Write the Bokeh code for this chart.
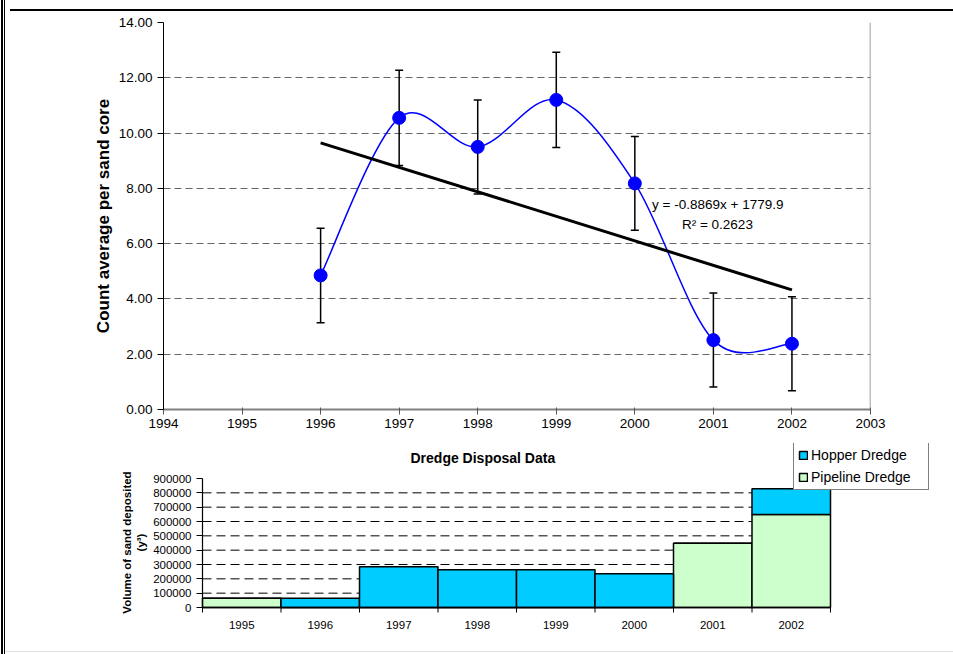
import numpy as np
from bokeh.plotting import figure
from bokeh.models import (Range1d, FixedTicker, NumeralTickFormatter, Span, Label,
                          Legend, LegendItem, ColumnDataSource, InlineStyleSheet)
from bokeh.core.properties import value
from bokeh.embed import file_html
from bokeh.resources import INLINE

# ---------------- data ----------------
years = [1996, 1997, 1998, 1999, 2000, 2001, 2002]
counts = [4.85, 10.55, 9.50, 11.20, 8.18, 2.51, 2.38]
errors = [1.71, 1.72, 1.70, 1.72, 1.70, 1.70, 1.70]
x_ticks = [1994, 1995, 1996, 1997, 1998, 1999, 2000, 2001, 2002, 2003]
y_ticks = [0, 2, 4, 6, 8, 10, 12, 14]
trend_slope = -0.8869
trend_intercept = 1779.9
r_squared = 0.2623

dredge_years = ["1995", "1996", "1997", "1998", "1999", "2000", "2001", "2002"]
hopper = [0, 65000, 285000, 263000, 263000, 236000, 0, 180000]
pipeline = [65000, 0, 0, 0, 0, 0, 448000, 649000]
vol_ticks = [0, 100000, 200000, 300000, 400000, 500000, 600000, 700000, 800000, 900000]

FONT = "Liberation Sans"
BLUE = "#0000FF"
HOPPER_C = "#00CCFF"
PIPE_C = "#CCFFCC"

# page frame lines around the chart (decoration of the sheet), one overlay per figure
top_css = InlineStyleSheet(css="""
:host::before { content: ""; position: absolute; left: 0; top: 0; width: 953px; height: 440px;
  z-index: 100; pointer-events: none;
  background-image: linear-gradient(#000, #000), linear-gradient(#000, #000), linear-gradient(#000, #000);
  background-size: 2px 440px, 1px 440px, 943px 2px;
  background-position: 1px 0, 4px 0, 10px 9px;
  background-repeat: no-repeat; }
""")
bottom_css = InlineStyleSheet(css="""
:host::before { content: ""; position: absolute; left: 0; top: 0; width: 953px; height: 214px;
  z-index: 100; pointer-events: none;
  background-image: linear-gradient(#000, #000), linear-gradient(#000, #000), linear-gradient(#e0e0e0, #e0e0e0);
  background-size: 2px 214px, 1px 214px, 948px 1px;
  background-position: 1px 0, 4px 0, 5px 211px;
  background-repeat: no-repeat; }
""")

# ---------------- top chart ----------------
p1 = figure(width=953, height=440, output_backend="svg", toolbar_location=None,
            x_range=Range1d(1994, 2003), y_range=Range1d(0, 14),
            min_border_left=163, min_border_right=83, min_border_top=22, min_border_bottom=31)
p1.outline_line_color = None
p1.stylesheets = [top_css]

p1.xgrid.visible = False
p1.ygrid.ticker = FixedTicker(ticks=y_ticks[1:])
p1.ygrid.grid_line_color = "#666666"
p1.ygrid.grid_line_dash = "7 4"
p1.ygrid.grid_line_width = 1

p1.xaxis.ticker = FixedTicker(ticks=x_ticks)
p1.xaxis.major_label_text_font = FONT
p1.xaxis.major_label_text_font_size = "13.5px"
p1.xaxis.major_label_text_color = "black"
p1.xaxis.major_label_standoff = 4
p1.xaxis.axis_line_color = "#808080"
p1.xaxis.axis_line_width = 2
p1.xaxis.major_tick_line_color = "#555555"
p1.xaxis.major_tick_out = 5
p1.xaxis.major_tick_in = 2
p1.xaxis.minor_tick_line_color = None

p1.yaxis.ticker = FixedTicker(ticks=y_ticks)
p1.yaxis.formatter = NumeralTickFormatter(format="0.00")
p1.yaxis.major_label_text_font = FONT
p1.yaxis.major_label_text_font_size = "13.5px"
p1.yaxis.major_label_text_color = "black"
p1.yaxis.axis_line_color = "black"
p1.yaxis.major_tick_out = 6
p1.yaxis.major_tick_in = 0
p1.yaxis.minor_tick_line_color = None
p1.yaxis.axis_label = "Count average per sand core"
p1.yaxis.axis_label_text_font = FONT
p1.yaxis.axis_label_text_font_size = "17px"
p1.yaxis.axis_label_text_font_style = "bold"
p1.yaxis.axis_label_text_color = "black"
p1.yaxis.axis_label_standoff = 3

p1.add_layout(Span(location=2003, dimension="height", line_color="#808080", line_width=1.5))

# error bars
lo = [c - e for c, e in zip(counts, errors)]
hi = [c + e for c, e in zip(counts, errors)]
p1.segment(x0=years, y0=lo, x1=years, y1=hi, line_color="black", line_width=1.5)
p1.scatter(x=years, y=lo, marker="dash", size=8, line_color="black", line_width=1.5)
p1.scatter(x=years, y=hi, marker="dash", size=8, line_color="black", line_width=1.5)

# smoothed line (Catmull-Rom style bezier through the points)
px = np.array(years, dtype=float)
py = np.array(counts, dtype=float)
n = len(px)
x0s, y0s, x1s, y1s, cx0, cy0, cx1, cy1 = [], [], [], [], [], [], [], []
for i in range(n - 1):
    im = max(i - 1, 0)
    ip2 = min(i + 2, n - 1)
    x0s.append(px[i]); y0s.append(py[i])
    x1s.append(px[i + 1]); y1s.append(py[i + 1])
    cx0.append(px[i] + (px[i + 1] - px[im]) / 6.0)
    cy0.append(py[i] + (py[i + 1] - py[im]) / 6.0)
    cx1.append(px[i + 1] - (px[ip2] - px[i]) / 6.0)
    cy1.append(py[i + 1] - (py[ip2] - py[i]) / 6.0)
p1.bezier(x0=x0s, y0=y0s, x1=x1s, y1=y1s, cx0=cx0, cy0=cy0, cx1=cx1, cy1=cy1,
          line_color=BLUE, line_width=1.5)

# linear trend line
tx = [years[0], years[-1]]
ty = [trend_slope * v + trend_intercept for v in tx]
p1.line(x=tx, y=ty, line_color="black", line_width=3)

p1.scatter(x=years, y=counts, size=13, fill_color=BLUE, line_color=BLUE)

p1.add_layout(Label(x=2000.22, y=7.42, text="y = -0.8869x + 1779.9",
                    text_font=FONT, text_font_size="13.5px", text_color="black",
                    text_baseline="middle", text_align="left"))
p1.add_layout(Label(x=2000.60, y=6.69, text="R² = %.4f" % r_squared,
                    text_font=FONT, text_font_size="13.5px", text_color="black",
                    text_baseline="middle", text_align="left"))

# ---------------- bottom chart ----------------
ncat = len(dredge_years)
xpos = [i + 0.5 for i in range(ncat)]
src = ColumnDataSource(dict(x=xpos, pipeline=pipeline, hopper=hopper))

# layout constants (pixels) for the lower chart
CAT_PX = 78.5                 # width of one category
VPX = 900000 / 129.0          # volume per pixel
p2 = figure(width=953, height=214, output_backend="svg", toolbar_location=None,
            x_range=Range1d(-2 / CAT_PX, 730 / CAT_PX),
            y_range=Range1d(-34 * VPX, 164 * VPX),
            min_border_left=200, min_border_right=21, min_border_top=3, min_border_bottom=13)
p2.outline_line_color = None
p2.stylesheets = [bottom_css]
p2.xgrid.visible = False
p2.ygrid.visible = False
p2.xaxis.visible = False

grid_vals = vol_ticks[1:-1]
p2.segment(x0=[0] * len(grid_vals), x1=[ncat] * len(grid_vals), y0=grid_vals, y1=grid_vals,
           line_color="black", line_dash="9 5", line_width=1)

rs = p2.vbar_stack(["pipeline", "hopper"], x="x", width=1.0, source=src,
                   fill_color=[PIPE_C, HOPPER_C], line_color="black", line_width=1.5)

# axis lines limited to the plot area
p2.segment(x0=[0], x1=[0], y0=[0], y1=[vol_ticks[-1]], line_color="black", line_width=1.2)
p2.segment(x0=[0], x1=[ncat], y0=[0], y1=[0], line_color="black", line_width=1.5)

# category boundary ticks and category labels
bounds = list(range(ncat + 1))
p2.segment(x0=bounds, x1=bounds, y0=[0] * len(bounds), y1=[-5 * VPX] * len(bounds),
           line_color="black", line_width=1)
p2.text(x=xpos, y=[-17 * VPX] * ncat, text=dredge_years, text_font=value(FONT),
        text_font_size="11.5px", text_color="black", text_align="center",
        text_baseline="middle")

p2.yaxis.ticker = FixedTicker(ticks=vol_ticks)
p2.yaxis.formatter = NumeralTickFormatter(format="0")
p2.yaxis.major_label_text_font = FONT
p2.yaxis.major_label_text_font_size = "11.5px"
p2.yaxis.major_label_text_color = "black"
p2.yaxis.axis_line_color = None
p2.yaxis.major_tick_out = 4
p2.yaxis.major_tick_in = 2
p2.yaxis.minor_tick_line_color = None
p2.yaxis.axis_label = "Volume of sand deposited\n(y³)"
p2.yaxis.axis_label_text_font = FONT
p2.yaxis.axis_label_text_font_size = "11.5px"
p2.yaxis.axis_label_text_font_style = "bold"
p2.yaxis.axis_label_text_color = "black"
p2.yaxis.axis_label_standoff = 3

p2.add_layout(Label(x=208 / CAT_PX, y=150 * VPX, text="Dredge Disposal Data",
                    text_font=FONT, text_font_size="14px", text_font_style="bold",
                    text_color="black", text_baseline="middle", text_align="left"))

legend = Legend(items=[LegendItem(label="Hopper Dredge", renderers=[rs[1]]),
                       LegendItem(label="Pipeline Dredge", renderers=[rs[0]])],
                location=(593, 151), label_text_font=FONT, label_text_font_size="14px",
                label_text_color="black", glyph_width=10, glyph_height=10,
                label_height=16, label_width=113, spacing=6, padding=4, margin=0,
                label_standoff=3, border_line_color="black", border_line_width=1.2,
                background_fill_color="white", background_fill_alpha=1)
p2.add_layout(legend)

open("out.html", "w").write(file_html([p1, p2], INLINE))
